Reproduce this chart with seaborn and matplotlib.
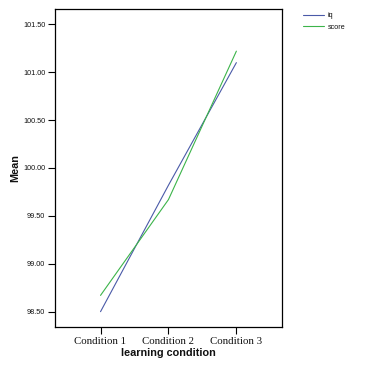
import matplotlib
matplotlib.use("Agg")
import matplotlib.pyplot as plt
import pandas
import seaborn

conditions = ["Condition 1", "Condition 2", "Condition 3"]
iq_means = [98.50, 99.82, 101.10]
score_means = [98.67, 99.67, 101.22]
y_ticks = [98.5, 99.0, 99.5, 100.0, 100.5, 101.0, 101.5]

data = pandas.concat([
    pandas.DataFrame({"condition": conditions, "mean": iq_means, "var": "iq"}),
    pandas.DataFrame({"condition": conditions, "mean": score_means, "var": "score"}),
])

seaborn.set_style("white")
plt.rcParams["font.family"] = ["Liberation Sans", "DejaVu Sans"]
plt.rcParams["text.color"] = "#111111"
plt.rcParams["xtick.color"] = "#111111"
plt.rcParams["ytick.color"] = "#111111"
plt.rcParams["axes.labelcolor"] = "#111111"

fig = plt.figure(figsize=(3.75, 3.75), dpi=100)
ax = fig.add_axes([0.1467, 0.128, 0.605, 0.848])

seaborn.lineplot(
    data=data, x="condition", y="mean", hue="var",
    palette={"iq": "#4a5aa8", "score": "#3cb44a"},
    linewidth=0.8, ax=ax, legend=False
)

ax.set_xlim(-0.67, 2.67)
ax.set_ylim(98.34, 101.66)
ax.set_yticks(y_ticks)
ax.set_yticklabels([f"{v:.2f}" for v in y_ticks], fontsize=5.2)
ax.set_xticks(range(len(conditions)))
ax.set_xticklabels(conditions, fontsize=7.8, family=["Liberation Serif"])
ax.tick_params(axis="both", direction="out", length=5, width=0.8, color="black",
               bottom=True, left=True, pad=2)

for spine in ax.spines.values():
    spine.set_visible(True)
    spine.set_color("black")
    spine.set_linewidth(0.9)

ax.set_xlabel("learning condition", fontsize=7.8, fontweight="bold", labelpad=2)
ax.set_ylabel("Mean", fontsize=7.8, fontweight="bold", labelpad=2)

# legend outside on the right
handles = ax.get_lines()[:2]
fig.legend(handles, ["iq", "score"], loc="upper left",
           bbox_to_anchor=(0.79, 0.985), frameon=False, fontsize=5.2,
           handlelength=3.0, handletextpad=0.4, labelspacing=0.6)

fig.savefig("out.png", dpi=100)
